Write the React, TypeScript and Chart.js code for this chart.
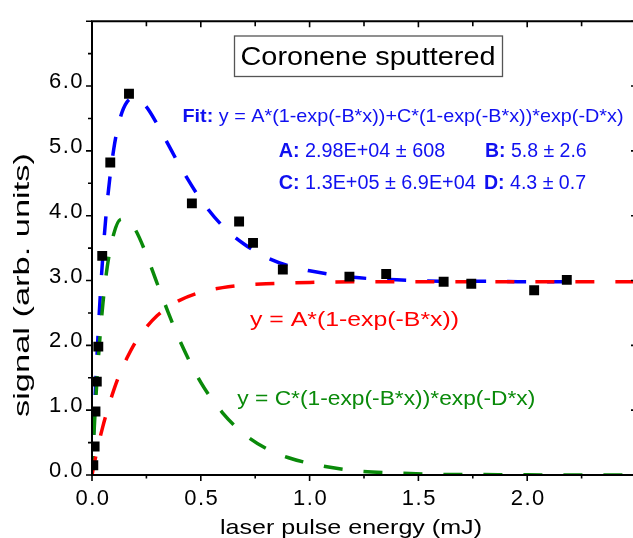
import React, { useEffect, useRef } from 'react';
import { Chart, registerables } from 'chart.js';

Chart.register(...registerables);

// Measured data (black squares)
const pointX = [0.006, 0.012, 0.016, 0.022, 0.029, 0.047, 0.084, 0.17, 0.459, 0.676, 0.74, 0.877, 1.183, 1.352, 1.616, 1.743, 2.032, 2.182];
const pointY = [0.15, 0.44, 0.98, 1.44, 1.98, 3.38, 4.82, 5.88, 4.19, 3.91, 3.58, 3.17, 3.06, 3.1, 2.98, 2.95, 2.85, 3.01];

// Fit curves
const curveX = [0, 0.01, 0.02, 0.03, 0.05, 0.07, 0.1, 0.13, 0.16, 0.2, 0.25, 0.3, 0.35, 0.4, 0.5, 0.6, 0.7, 0.8, 0.9, 1.0, 1.2, 1.4, 1.6, 1.8, 2.0, 2.2, 2.5];
const redY = [0, 0.17, 0.33, 0.48, 0.75, 0.99, 1.31, 1.58, 1.8, 2.05, 2.28, 2.46, 2.59, 2.69, 2.82, 2.89, 2.93, 2.95, 2.96, 2.97, 2.98, 2.98, 2.98, 2.98, 2.98, 2.98, 2.98];
const greenY = [0, 0.7, 1.31, 1.83, 2.64, 3.21, 3.72, 3.94, 3.95, 3.78, 3.4, 2.95, 2.51, 2.1, 1.43, 0.96, 0.63, 0.41, 0.27, 0.18, 0.07, 0.03, 0.01, 0.006, 0.002, 0.001, 0];
const blueY = [0, 0.87, 1.63, 2.3, 3.39, 4.21, 5.03, 5.51, 5.75, 5.82, 5.68, 5.41, 5.1, 4.79, 4.25, 3.84, 3.56, 3.36, 3.23, 3.15, 3.05, 3.01, 2.99, 2.99, 2.98, 2.98];

// Ticks
const xMajorTicks = [0, 0.5, 1.0, 1.5, 2.0, 2.5];
const xMinorTicks = [0.25, 0.75, 1.25, 1.75, 2.25];
const yMajorTicks = [0, 1, 2, 3, 4, 5, 6, 7];
const yMinorTicks = [0.5, 1.5, 2.5, 3.5, 4.5, 5.5, 6.5];

// Texts
const titleText = 'Coronene sputtered';
const xTitle = 'laser pulse energy (mJ)';
const yTitle = 'signal (arb. units)';
const fitLabel = 'Fit:';
const fitFormula = ' y = A*(1-exp(-B*x))+C*(1-exp(-B*x))*exp(-D*x)';
const paramA = ['A:', ' 2.98E+04 \u00b1 608'];
const paramB = ['B:', ' 5.8 \u00b1 2.6'];
const paramC = ['C:', ' 1.3E+05 \u00b1 6.9E+04'];
const paramD = ['D:', ' 4.3 \u00b1 0.7'];
const redLabel = 'y = A*(1-exp(-B*x))';
const greenLabel = 'y = C*(1-exp(-B*x))*exp(-D*x)';

const FAMILY = "'Liberation Sans', Arial, sans-serif";
const BLUE = '#0000ff';
const RED = '#ff0000';
const GREEN = '#0a8a0a';
const TEXT_BLUE = '#1010f0';

type Seg = { t: string; bold?: boolean };

function drawSegs(ctx: CanvasRenderingContext2D, segs: Seg[], x: number, y: number, size: number, color: string, width: number) {
  const fonts = segs.map((s) => `${s.bold ? 'bold ' : ''}${size}px ${FAMILY}`);
  let total = 0;
  const ws = segs.map((s, i) => {
    ctx.font = fonts[i];
    const w = ctx.measureText(s.t).width;
    total += w;
    return w;
  });
  const sx = width / total;
  ctx.save();
  ctx.translate(x, y);
  ctx.scale(sx, 1);
  ctx.fillStyle = color;
  ctx.textAlign = 'left';
  ctx.textBaseline = 'alphabetic';
  let cx = 0;
  segs.forEach((s, i) => {
    ctx.font = fonts[i];
    ctx.fillText(s.t, cx, 0);
    cx += ws[i];
  });
  ctx.restore();
}

const spacingPlugin = {
  id: 'tickSpacing',
  beforeDraw(chart: any) {
    (chart.ctx as any).letterSpacing = '1.5px';
  },
  beforeDatasetsDraw(chart: any) {
    (chart.ctx as any).letterSpacing = '0px';
  },
};

const decorPlugin = {
  id: 'decor',
  afterDraw(chart: any) {
    const ctx: CanvasRenderingContext2D = chart.ctx;
    (ctx as any).letterSpacing = '0px';
    const xs = chart.scales.x;
    const ys = chart.scales.y;
    const { left, right, top, bottom } = chart.chartArea;
    ctx.save();
    // Axes box
    ctx.strokeStyle = '#000';
    ctx.lineWidth = 2;
    ctx.beginPath();
    ctx.moveTo(left, top);
    ctx.lineTo(right, top);
    ctx.lineTo(right, bottom);
    ctx.lineTo(left, bottom);
    ctx.closePath();
    ctx.stroke();
    ctx.lineWidth = 1.6;
    ctx.beginPath();
    // bottom & top ticks
    xMajorTicks.forEach((v) => {
      const px = xs.getPixelForValue(v);
      ctx.moveTo(px, bottom);
      ctx.lineTo(px, bottom + 6);
      ctx.moveTo(px, top);
      ctx.lineTo(px, top + 6);
    });
    xMinorTicks.forEach((v) => {
      const px = xs.getPixelForValue(v);
      ctx.moveTo(px, bottom);
      ctx.lineTo(px, bottom + 3.5);
      ctx.moveTo(px, top);
      ctx.lineTo(px, top + 5);
    });
    // left & right ticks
    yMajorTicks.forEach((v) => {
      const py = ys.getPixelForValue(v);
      ctx.moveTo(left, py);
      ctx.lineTo(left - 6, py);
      ctx.moveTo(right, py);
      ctx.lineTo(right - 5, py);
    });
    yMinorTicks.forEach((v) => {
      const py = ys.getPixelForValue(v);
      ctx.moveTo(left, py);
      ctx.lineTo(left - 4, py);
    });
    ctx.stroke();
    ctx.restore();

    // Title box
    ctx.save();
    ctx.fillStyle = '#fff';
    ctx.fillRect(234.5, 36, 268, 40.5);
    ctx.strokeStyle = '#555';
    ctx.lineWidth = 1.3;
    ctx.strokeRect(234.5, 36, 268, 40.5);
    ctx.restore();
    drawSegs(ctx, [{ t: titleText }], 240.5, 64.5, 26, '#000', 255);

    // Fit annotation
    drawSegs(ctx, [{ t: fitLabel, bold: true }, { t: fitFormula }], 182.5, 122.3, 19, TEXT_BLUE, 441);
    drawSegs(ctx, [{ t: paramA[0], bold: true }, { t: paramA[1] }], 278.7, 156.7, 20, TEXT_BLUE, 166.5);
    drawSegs(ctx, [{ t: paramB[0], bold: true }, { t: paramB[1] }], 485, 156.7, 20, TEXT_BLUE, 101.7);
    drawSegs(ctx, [{ t: paramC[0], bold: true }, { t: paramC[1] }], 278.7, 189.3, 20, TEXT_BLUE, 197);
    drawSegs(ctx, [{ t: paramD[0], bold: true }, { t: paramD[1] }], 484, 189.3, 20, TEXT_BLUE, 102);

    // Curve labels
    drawSegs(ctx, [{ t: redLabel }], 250, 325.5, 20.5, RED, 209);
    drawSegs(ctx, [{ t: greenLabel }], 237.3, 405, 20, GREEN, 298);

    // Axis titles
    drawSegs(ctx, [{ t: xTitle }], 220, 534, 21, '#000', 262);
    ctx.save();
    ctx.translate(29, 417);
    ctx.rotate(-Math.PI / 2);
    drawSegs(ctx, [{ t: yTitle }], 0, 0, 22, '#000', 264);
    ctx.restore();
  },
};

const CW = 660;
const CH = 560;

export default function App() {
  const ref = useRef<HTMLCanvasElement | null>(null);
  useEffect(() => {
    if (!ref.current) return;
    const pts = pointX.map((x, i) => ({ x, y: pointY[i] }));
    const red = curveX.map((x, i) => ({ x, y: redY[i] }));
    const green = curveX.map((x, i) => ({ x, y: greenY[i] }));
    const blue = blueY.map((y, i) => ({ x: curveX[i], y }));
    const lineDs = (data: any[], color: string) => ({
      data,
      showLine: true,
      borderColor: color,
      backgroundColor: color,
      borderWidth: 3.5,
      borderDash: [19, 21],
      pointRadius: 0,
      cubicInterpolationMode: 'monotone' as const,
      fill: false,
    });
    const chart = new Chart(ref.current, {
      type: 'scatter',
      data: {
        datasets: [
          {
            data: pts,
            pointStyle: 'rect',
            pointRadius: 7,
            pointHoverRadius: 7,
            backgroundColor: '#000',
            borderColor: '#000',
            borderWidth: 0,
            showLine: false,
          },
          lineDs(red, RED),
          lineDs(green, GREEN),
          lineDs(blue, BLUE),
        ] as any,
      },
      options: {
        animation: false,
        responsive: false,
        devicePixelRatio: 1,
        events: [],
        layout: { padding: { top: 14, right: 24, left: 0, bottom: 0 } },
        plugins: { legend: { display: false }, tooltip: { enabled: false } },
        scales: {
          x: {
            type: 'linear',
            min: 0,
            max: 2.5,
            grid: { display: false, drawTicks: false },
            border: { display: false },
            ticks: {
              stepSize: 0.5,
              autoSkip: false,
              maxRotation: 0,
              padding: 11,
              labelOffset: 1,
              color: '#000',
              font: { family: FAMILY, size: 22 },
              callback: (v: any) => (Number(v) > 2.4 ? '' : Number(v).toFixed(1)),
            },
            afterFit: (s: any) => {
              s.height = 85;
            },
          },
          y: {
            type: 'linear',
            min: 0,
            max: 7,
            grid: { display: false, drawTicks: false },
            border: { display: false },
            ticks: {
              stepSize: 1,
              padding: 8,
              labelOffset: -4,
              color: '#000',
              font: { family: FAMILY, size: 22 },
              callback: (v: any) => (Number(v) > 6.5 ? '' : Number(v).toFixed(1)),
            },
            afterFit: (s: any) => {
              s.width = 92;
            },
          },
        },
      },
      plugins: [spacingPlugin, decorPlugin],
    });
    return () => chart.destroy();
  }, []);
  return (
    <div style={{ position: 'fixed', left: 0, top: 0, width: 633, height: 538, overflow: 'hidden', background: '#fff' }}>
      <canvas ref={ref} width={CW} height={CH} style={{ width: CW, height: CH, display: 'block' }} />
    </div>
  );
}
